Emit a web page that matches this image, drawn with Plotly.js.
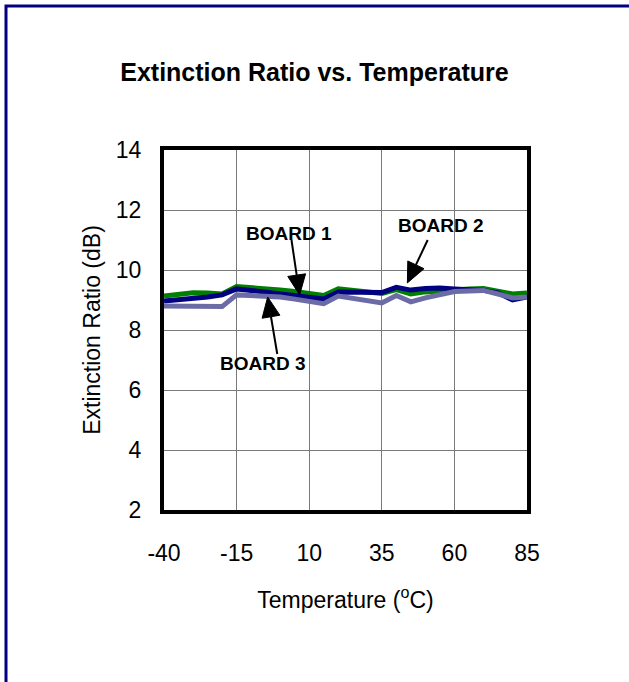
<!DOCTYPE html>
<html>
<head>
<meta charset="utf-8">
<script src="https://cdn.plot.ly/plotly-3.0.1.min.js"></script>
<style>
html,body{margin:0;padding:0;background:#fff;}
#chart{width:629px;height:682px;}
</style>
</head>
<body>
<div id="chart"></div>
<script>
var temperature = [-40,-35,-30,-25,-20,-15,-10,-5,0,5,10,15,20,25,30,35,40,45,50,55,60,65,70,75,80,85];
var board1 = [9.13,9.20,9.24,9.23,9.20,9.45,9.42,9.38,9.33,9.28,9.23,9.15,9.37,9.33,9.30,9.22,9.35,9.20,9.27,9.31,9.36,9.37,9.38,9.30,9.20,9.23];
var board2 = [8.97,9.00,9.05,9.10,9.17,9.37,9.32,9.27,9.20,9.15,9.10,9.03,9.27,9.25,9.23,9.25,9.42,9.33,9.38,9.40,9.37,9.35,9.32,9.24,9.00,9.10];
var board3 = [8.80,8.80,8.82,8.80,8.78,9.17,9.15,9.13,9.10,9.03,8.97,8.88,9.13,9.05,8.98,8.90,9.15,8.94,9.07,9.18,9.28,9.30,9.32,9.20,9.07,9.10];
var xTicks = [-40,-15,10,35,60,85];
var yTicks = [2,4,6,8,10,12,14];
var labels = ["BOARD 1","BOARD 2","BOARD 3"];

var font = 'Liberation Sans, Arial, sans-serif';
var traces = [
  {x: temperature, y: board1, mode:'lines', line:{color:'#008000', width:5}, name:labels[0]},
  {x: temperature, y: board2, mode:'lines', line:{color:'#000080', width:5}, name:labels[1]},
  {x: temperature, y: board3, mode:'lines', line:{color:'#6B6BA6', width:5}, name:labels[2]}
];

var W = 363, H = 360, L = 164, T = 150;
var XR = [-40,85], YR = [2,14];
function px(xp){return (xp - L)/W;}
function py(yp){return 1 - (yp - T)/H;}
// data <-> pixel helpers for arrow geometry
function d2p(x, y){ return [L + (x - XR[0])/(XR[1]-XR[0])*W, T + (YR[1] - y)/(YR[1]-YR[0])*H]; }
function p2d(p){ return [XR[0] + (p[0]-L)/W*(XR[1]-XR[0]), YR[1] - (p[1]-T)/H*(YR[1]-YR[0])]; }

function arrowShapes(x, y, ax, ay){
  var tip = d2p(x, y), tail = d2p(ax, ay);
  var dx = tip[0]-tail[0], dy = tip[1]-tail[1], len = Math.sqrt(dx*dx+dy*dy);
  var ux = dx/len, uy = dy/len, hl = 20, hw = 9;
  var base = [tip[0]-ux*hl, tip[1]-uy*hl];
  var p1 = [base[0]-uy*hw, base[1]+ux*hw], p2 = [base[0]+uy*hw, base[1]-ux*hw];
  var a = p2d(tip), b = p2d(p1), c = p2d(p2), s = p2d(tail), e = p2d(base);
  return [
    {type:'line', xref:'x', yref:'y', x0:s[0], y0:s[1], x1:e[0], y1:e[1], line:{color:'#000', width:2}, layer:'above'},
    {type:'path', xref:'x', yref:'y', path:'M '+a[0]+' '+a[1]+' L '+b[0]+' '+b[1]+' L '+c[0]+' '+c[1]+' Z',
     fillcolor:'#000', line:{color:'#000', width:1}, layer:'above'}
  ];
}

var shapes = [
  {type:'path', xref:'paper', yref:'paper',
   path:'M '+px(6)+' '+py(700)+' L '+px(6)+' '+py(6)+' L '+px(650)+' '+py(6),
   line:{color:'#000080', width:3}, layer:'above'}
].concat(arrowShapes(6.7, 9.17, 3.9, 11.0), arrowShapes(43.8, 9.57, 50.8, 11.0), arrowShapes(-4.3, 9.1, -1.0, 7.2));

var layout = {
  width:629, height:682,
  margin:{l:164, r:102, t:150, b:172, pad:0},
  paper_bgcolor:'#fff', plot_bgcolor:'#fff',
  showlegend:false,
  font:{family:font, color:'#000'},
  title:{text:'<b>Extinction Ratio vs. Temperature</b>', font:{size:25, family:font, color:'#000'},
         xref:'container', x:0.5, xanchor:'center', yref:'container', y:1-72/682, yanchor:'middle'},
  xaxis:{range:XR, tickvals:xTicks, ticktext:xTicks.map(String), showgrid:true, gridcolor:'#7a7a7a', gridwidth:1,
         showline:true, linecolor:'#000', linewidth:4, mirror:true, zeroline:false, ticks:'',
         tickfont:{size:23, family:font}, ticklabelstandoff:19,
         title:{text:'Temperature (<sup>o</sup>C)', font:{size:23, family:font}, standoff:28}},
  yaxis:{range:YR, tickvals:yTicks, showgrid:true, gridcolor:'#7a7a7a', gridwidth:1,
         showline:true, linecolor:'#000', linewidth:4, mirror:true, zeroline:false, ticks:'',
         tickfont:{size:23, family:font}, ticklabelstandoff:14,
         title:{text:'Extinction Ratio (dB)', font:{size:23, family:font}, standoff:10}},
  annotations:[
    {x:2.9, y:11.23, xref:'x', yref:'y', text:'<b>'+labels[0]+'</b>', showarrow:false, font:{size:19, family:font}},
    {x:55.5, y:11.47, xref:'x', yref:'y', text:'<b>'+labels[1]+'</b>', showarrow:false, font:{size:19, family:font}},
    {x:-6, y:6.87, xref:'x', yref:'y', text:'<b>'+labels[2]+'</b>', showarrow:false, font:{size:19, family:font}}
  ],
  shapes: shapes
};
Plotly.newPlot('chart', traces, layout, {displayModeBar:false, staticPlot:true});
</script>
</body>
</html>
